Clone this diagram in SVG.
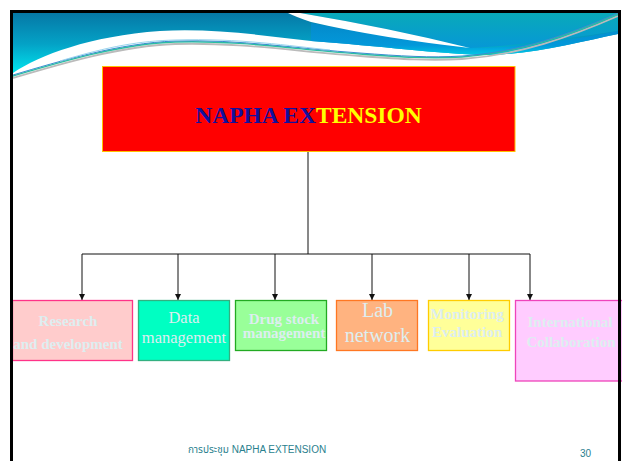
<svg xmlns="http://www.w3.org/2000/svg" width="622" height="461" viewBox="0 0 622 461">
<defs>
<linearGradient id="gL" gradientUnits="userSpaceOnUse" x1="0" y1="13" x2="0" y2="75">
<stop offset="0" stop-color="#0678A6"/>
<stop offset="0.5" stop-color="#04A2C6"/>
<stop offset="1" stop-color="#00E8F0"/>
</linearGradient>
<linearGradient id="gR" gradientUnits="userSpaceOnUse" x1="0" y1="13" x2="0" y2="50">
<stop offset="0" stop-color="#09A9B9"/>
<stop offset="1" stop-color="#0697D8"/>
</linearGradient>
<linearGradient id="gR2" gradientUnits="userSpaceOnUse" x1="0" y1="20" x2="0" y2="56">
<stop offset="0" stop-color="#0488C8"/>
<stop offset="0.7" stop-color="#0398DA"/>
<stop offset="1" stop-color="#00CDE6"/>
</linearGradient>
<marker id="arr" viewBox="0 0 6 6" refX="6" refY="3" markerWidth="6" markerHeight="6" markerUnits="userSpaceOnUse" orient="auto">
<path d="M0,0 L6,3 L0,6 Z" fill="#111"/>
</marker>
<style>
.box{stroke-width:1.3}
.lb{font-family:"Liberation Serif","Times New Roman",serif;fill:#DDEEF0;text-anchor:middle}
.b{font-weight:bold;font-size:15px}
.conn line{stroke:#111;stroke-width:1}
</style>
</defs>

<!-- header -->
<g id="header">
<path d="M13,13 H618 V34 C580,42 530,55 484,55 C440,54 380,46 311,41 C260,35 210,28 160,31 C90,36 40,55 13,73 Z" fill="url(#gL)"/>
<path d="M300,13 H618 V31 C570,38 515,46 470,48 Q390,28 300,13 Z" fill="url(#gR)"/>
<path d="M311,23 Q390,38 470,48 C520,48 570,40 618,31 V34 C580,42 530,55 484,55 C440,54 380,46 311,41 Z" fill="url(#gR2)"/>
<path d="M288,13 L300,13 Q390,28 470,48 Q380,38 311,22 Q296,17 288,13 Z" fill="#FFFFFF"/>
<path d="M13,78 C60,64 120,46 175,44 C240,42 300,52 360,56 C400,59 430,61 462,59 C520,55 570,37 618,16" fill="none" stroke="#BBBBBB" stroke-width="1.8"/>
<path d="M13,76 C60,62 120,44 175,42 C240,40 300,50 360,54 C400,57 430,59 462,57 C520,53 570,35 618,14" fill="none" stroke="#2BBFA0" stroke-width="1.4"/>
<path d="M13,75 C60,61 120,43 175,41 C240,39 300,49 360,53 C400,56 430,58 462,56 C520,52 570,34 618,13" fill="none" stroke="#3A8ED0" stroke-width="1"/>
<path d="M60,61 C110,46 140,41 175,40 C240,38 290,46 330,50" fill="none" stroke="#9AD4EE" stroke-width="1"/>
</g>

<!-- connectors -->
<g id="connectors" class="conn">
<line x1="308" y1="152" x2="308" y2="254"/>
<line x1="82" y1="254" x2="530" y2="254"/>
<line x1="82" y1="254" x2="82" y2="300" marker-end="url(#arr)"/>
<line x1="178" y1="254" x2="178" y2="300" marker-end="url(#arr)"/>
<line x1="275" y1="254" x2="275" y2="300" marker-end="url(#arr)"/>
<line x1="372" y1="254" x2="372" y2="300" marker-end="url(#arr)"/>
<line x1="469" y1="254" x2="469" y2="300" marker-end="url(#arr)"/>
<line x1="530" y1="254" x2="530" y2="300" marker-end="url(#arr)"/>
</g>

<g id="napha">
<rect x="102.5" y="66.5" width="412.5" height="85" fill="#FF0000" stroke="#FFC000" stroke-width="1"/>
<text x="308.5" y="123" font-family="Liberation Serif,'Times New Roman',serif" font-weight="bold" font-size="23.5" text-anchor="middle"><tspan fill="#12109C">NAPHA EX</tspan><tspan fill="#FFFF00">TENSION</tspan></text>
</g>

<g id="research">
<rect class="box" x="12.5" y="300.5" width="120" height="60" fill="#FFCCCC" stroke="#FF3388"/>
<text class="lb b" x="68" y="326">Research</text>
<text class="lb b" x="68" y="349">and development</text>
</g>

<g id="data">
<rect class="box" x="138.5" y="300.5" width="91" height="60" fill="#00FFC2" stroke="#33B080"/>
<text class="lb" font-size="16.5" x="184" y="323">Data</text>
<text class="lb" font-size="16.5" x="184" y="343">management</text>
</g>

<g id="drug">
<rect class="box" x="235.5" y="300.5" width="91" height="50" fill="#99FF99" stroke="#22AA22"/>
<text class="lb b" x="284" y="323.5">Drug stock</text>
<text class="lb b" x="284" y="337.5">management</text>
</g>

<g id="lab">
<rect class="box" x="336.5" y="300.5" width="81" height="50" fill="#FFB380" stroke="#FF7722"/>
<text class="lb" font-size="20" x="377.5" y="317">Lab</text>
<text class="lb" font-size="20" x="377.5" y="342">network</text>
</g>

<g id="monitoring">
<rect class="box" x="428.5" y="300.5" width="81" height="50" fill="#FFFF99" stroke="#FFCC00"/>
<text class="lb b" x="467" y="319">Monitoring</text>
<text class="lb b" x="467" y="337">Evaluation</text>
</g>

<g id="international">
<rect class="box" x="515.5" y="300.5" width="110" height="80.5" fill="#FFCCFF" stroke="#EE44BB"/>
<text class="lb b" x="570" y="327">International</text>
<text class="lb b" x="571" y="347">Collaboration</text>
</g>

<!-- slide frame -->
<rect x="11.5" y="11.5" width="608" height="460" fill="none" stroke="#000" stroke-width="3"/>

<g id="footer">
<text x="188" y="453" font-family="Liberation Sans,Arial,'Noto Sans Thai','Noto Sans',sans-serif" font-size="10" fill="#2A7F8E">การประชุม NAPHA EXTENSION</text>
<text x="580" y="457" font-family="Liberation Sans,Arial,sans-serif" font-size="10" fill="#2A7F8E">30</text>
</g>
</svg>
